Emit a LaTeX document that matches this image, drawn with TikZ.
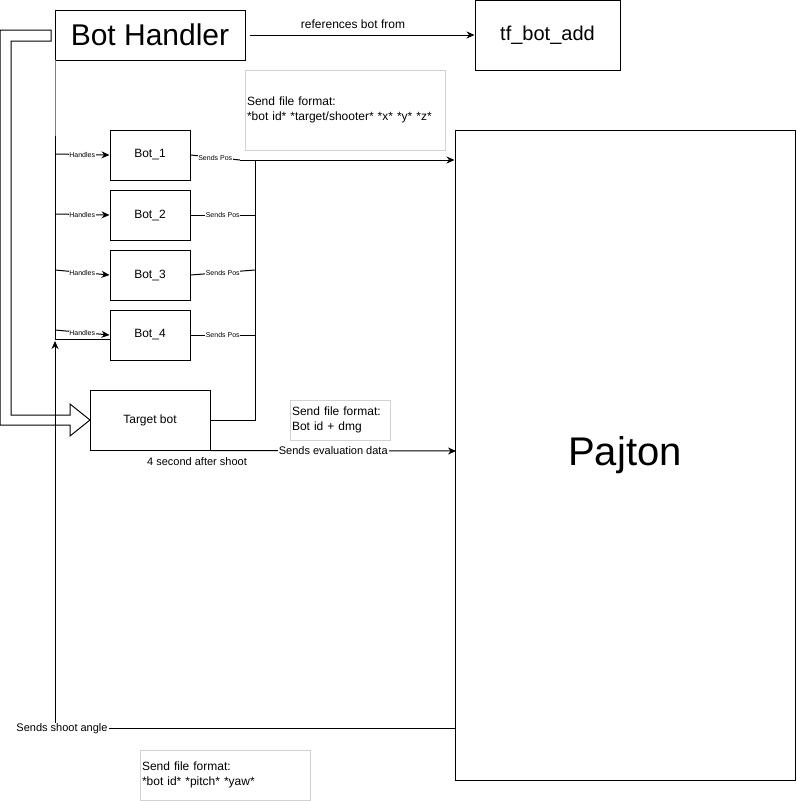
\documentclass[tikz,border=0pt]{standalone}
\usepackage{fontspec}
\setmainfont{Liberation Sans}
\usetikzlibrary{arrows.meta}
\begin{document}
\begin{tikzpicture}[x=1pt,y=-1pt,
  box/.style={draw, line width=1pt, inner sep=0pt, font=\fontsize{12}{14}\selectfont},
  note/.style={draw=gray!35, line width=1pt, inner sep=2pt, align=left, font=\fontsize{12}{15}\selectfont},
  conn/.style={line width=1pt},
  arr/.style={conn, -{Stealth[length=8pt,width=7pt]}},
  tinylab/.style={font=\fontsize{7}{8}\selectfont, fill=white, inner sep=0.5pt},
  lab/.style={font=\fontsize{11}{13}\selectfont, fill=white, inner sep=1pt}]
\useasboundingbox (0,0) rectangle (796,801);

% nodes
\node[box, minimum width=190pt, minimum height=50pt, font=\fontsize{30}{36}\selectfont] (bh) at (150,35) {Bot Handler};
\node[box, minimum width=145pt, minimum height=70pt, font=\fontsize{20}{24}\selectfont] (tf) at (547.5,35) {tf\_bot\_add};
\node[note, text width=196pt, minimum height=80pt] (n1) at (345,110) {Send file format:\\{}*bot id* *target/shooter* *x* *y* *z*};
\node[box, minimum width=340pt, minimum height=650pt, font=\fontsize{40}{48}\selectfont] (paj) at (625,455) {Pajton};
\node[box, minimum width=80pt, minimum height=50pt] (b1) at (150,155) {Bot\_1};
\node[box, minimum width=80pt, minimum height=50pt] (b2) at (150,215) {Bot\_2};
\node[box, minimum width=80pt, minimum height=50pt] (b3) at (150,275) {Bot\_3};
\node[box, minimum width=80pt, minimum height=50pt] (b4) at (150,335) {Bot\_4};
\node[box, minimum width=120pt, minimum height=60pt] (tg) at (150,420) {Target bot};
\node[note, text width=96pt, minimum height=40pt] (n2) at (340,420) {Send file format:\\Bot id + dmg};
\node[note, text width=166pt, minimum height=50pt] (n3) at (225,775) {Send file format:\\{}*bot id* *pitch* *yaw*};

% hollow big arrow from Bot Handler to Target bot
\draw[line width=1pt] (51,30) -- (0,30) -- (0,425) -- (70,425) -- (70,436) -- (90,420)
  -- (70,404) -- (70,415) -- (11,415) -- (11,41) -- (51,41) -- cycle;

% references
\draw[arr] ([xshift=4pt]bh.east |- tf.west) -- node[pos=0.46, yshift=11pt, font=\fontsize{12}{14}\selectfont]{references bot from} (tf.west);

% handler trunk
\coordinate (bt) at (55,60);
\coordinate (hs) at (55,136);
\draw[conn, gray] (bt) -- (hs);
\draw[conn] (hs) -- (55,340);
\coordinate (h1) at (55,154);
\coordinate (h2) at (55,214);
\coordinate (h3) at (55,270);
\coordinate (h4) at (55,330);
\draw[arr] (h1) -- node[tinylab]{Handles} (b1.west);
\draw[arr] (h2) -- node[tinylab]{Handles} (b2.west);
\draw[arr] (h3) -- node[tinylab]{Handles} (b3.west);
\draw[arr] (h4) -- node[tinylab]{Handles} (b4.west);
\coordinate (k) at (55,339);
\draw[conn] (k) -- (k -| b4.west);

% sends pos
\coordinate (p1) at (240,160);
\coordinate (t1) at (255,160);
\coordinate (t3) at (255,270);
\draw[conn] (b1.east) -- node[tinylab]{Sends Pos} (p1);
\draw[arr] (p1) -- (p1 -| paj.west);
\draw[conn] (b2.east) -- node[tinylab]{Sends Pos} (b2.east -| t1);
\draw[conn] (b3.east) -- node[tinylab]{Sends Pos} (t3);
\draw[conn] (b4.east) -- node[tinylab]{Sends Pos} (b4.east -| t1);
\draw[conn] (t1) |- (tg.east);

% evaluation data
\coordinate (e1) at (456,451);
\draw[arr] (tg.south east) -- node[lab]{Sends evaluation data} (e1);
\node[font=\fontsize{11}{13}\selectfont] (sec) at (197,462) {4 second after shoot};

% shoot angle
\coordinate (s1) at (456,728);
\coordinate (c1) at (55,728);
\coordinate (up) at (55,341);
\draw[arr] (s1) -- (c1) -- (up);
\node[lab] (sa) at (62,729) {Sends shoot angle};
\end{tikzpicture}
\end{document}
